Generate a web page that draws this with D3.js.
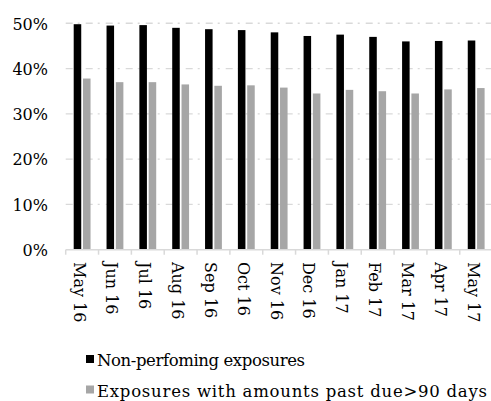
<!DOCTYPE html>
<html>
<head>
<meta charset="utf-8">
<script src="https://cdn.jsdelivr.net/npm/d3@7"></script>
<style>
  html, body { margin: 0; padding: 0; background: #fff; }
  svg { display: block; }
  text { font-family: "DejaVu Serif", serif; fill: #000; }
</style>
</head>
<body>
<svg id="chart" width="491" height="401"></svg>
<script>
const categories = ["May 16","Jun 16","Jul 16","Aug 16","Sep 16","Oct 16","Nov 16","Dec 16","Jan 17","Feb 17","Mar 17","Apr 17","May 17"];
const seriesNames = ["Non-perfoming exposures", "Exposures with amounts past due>90 days"];
const nonPerforming = [0.498, 0.495, 0.496, 0.490, 0.487, 0.485, 0.480, 0.472, 0.475, 0.470, 0.460, 0.461, 0.462];
const pastDue90 = [0.378, 0.370, 0.370, 0.365, 0.362, 0.363, 0.358, 0.345, 0.353, 0.350, 0.345, 0.354, 0.357];
const yTicks = [0, 0.1, 0.2, 0.3, 0.4, 0.5];
const seriesColors = ["#000000", "#a6a6a6"];

const svg = d3.select("#chart");
const pLeft = 65.7, pRight = 492.6, pTop = 23.3, pBottom = 249.7;

const x0 = d3.scaleBand().domain(categories).range([pLeft, pRight]).padding(0);
const x1 = d3.scaleBand().domain(seriesNames).range([0, x0.bandwidth()]).paddingInner(0.19).paddingOuter(0.86);
const y = d3.scaleLinear().domain([0, 0.5]).range([pBottom, pTop]);

// gridlines
svg.append("g").selectAll("line").data(yTicks.filter(d => d > 0)).join("line")
  .attr("x1", pLeft).attr("x2", 491)
  .attr("y1", d => y(d)).attr("y2", d => y(d))
  .attr("stroke", "#d9d9d9").attr("stroke-width", 1.4)
  .attr("stroke-dasharray", "7,5,2,6");

// y labels
const yAxis = d3.axisLeft(y).tickValues(yTicks).tickFormat(d3.format(".0%")).tickSize(0).tickPadding(0);
const gy = svg.append("g").attr("transform", "translate(48,0)").call(yAxis);
gy.select(".domain").remove();
gy.selectAll("text").attr("font-family", "DejaVu Serif").attr("font-size", 16)
  .attr("dy", "0.36em").attr("fill", "#000");

// bars
const data = categories.map((c, i) => ({ c, vals: [nonPerforming[i], pastDue90[i]] }));
const groups = svg.append("g").selectAll("g").data(data).join("g")
  .attr("transform", d => `translate(${x0(d.c)},0)`);
groups.selectAll("rect").data(d => d.vals.map((v, j) => ({ s: seriesNames[j], v, j }))).join("rect")
  .attr("x", d => x1(d.s)).attr("width", x1.bandwidth())
  .attr("y", d => y(d.v)).attr("height", d => y(0) - y(d.v))
  .attr("fill", d => seriesColors[d.j]);

// x axis
const xAxis = d3.axisBottom(x0).tickSize(0).tickFormat("");
const gx = svg.append("g").attr("transform", `translate(0,${pBottom})`).call(xAxis);
gx.select(".domain").attr("stroke", "#d9d9d9").attr("stroke-width", 1.5)
  .attr("d", `M${pLeft},0H491`);
gx.selectAll(".tick").remove();
const edges = categories.map(c => x0(c)).concat([x0(categories[categories.length-1]) + x0.bandwidth()]);
gx.selectAll("line.tk").data(edges).join("line").attr("class", "tk")
  .attr("x1", d => d).attr("x2", d => d).attr("y1", 0).attr("y2", 5)
  .attr("stroke", "#d9d9d9").attr("stroke-width", 1.5);

svg.append("g").selectAll("text").data(categories).join("text")
  .attr("transform", d => `translate(${x0(d) + x0.bandwidth()/2},262) rotate(90)`)
  .attr("x", 0).attr("y", 8.6)
  .attr("font-size", 16)
  .text(d => d);

// legend
const legendY = [366, 396.5];
const legendLen = [208, 390];
const lg = svg.append("g").selectAll("g").data(seriesNames).join("g");
lg.append("rect").attr("x", 86).attr("y", (d, i) => legendY[i] - 11).attr("width", 8).attr("height", 8)
  .attr("fill", (d, i) => seriesColors[i]);
lg.append("text").attr("x", 97).attr("y", (d, i) => legendY[i]).attr("font-size", 16.5)
  .attr("textLength", (d, i) => legendLen[i]).attr("lengthAdjust", "spacing")
  .text(d => d);
</script>
</body>
</html>
